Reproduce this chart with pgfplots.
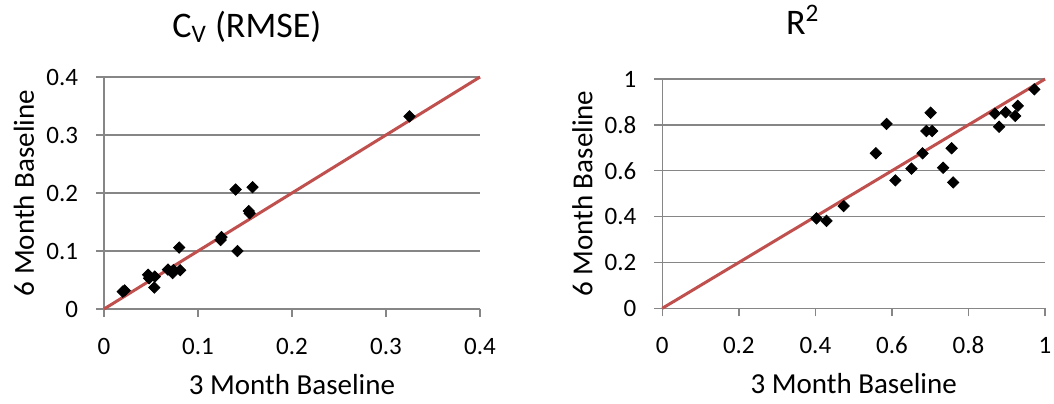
\documentclass[border=0pt]{standalone}
\usepackage{fontspec}
\setmainfont{Carlito}
\usepackage{pgfplots}
\pgfplotsset{compat=1.18}
\usepackage{pgfplotstable}

% Coefficient of variation of the RMSE: 3-month vs 6-month baseline
\pgfplotstableread{
x y
0.020 0.030
0.022 0.032
0.047 0.059
0.048 0.053
0.054 0.056
0.0535 0.037
0.068 0.068
0.074 0.067
0.073 0.062
0.081 0.067
0.080 0.106
0.124 0.119
0.125 0.124
0.142 0.100
0.140 0.206
0.158 0.210
0.154 0.169
0.155 0.165
0.325 0.332
}\cvdata

% Coefficient of determination: 3-month vs 6-month baseline
\pgfplotstableread{
x y
0.403 0.392
0.429 0.381
0.474 0.446
0.558 0.676
0.586 0.804
0.609 0.558
0.651 0.609
0.680 0.676
0.690 0.773
0.705 0.773
0.701 0.853
0.734 0.613
0.756 0.698
0.760 0.549
0.869 0.849
0.880 0.792
0.897 0.855
0.922 0.839
0.929 0.883
0.972 0.955
}\rsqdata

\definecolor{xlgray}{HTML}{868686}
\definecolor{xlred}{HTML}{C0504D}

\pgfplotsset{
  baseline/.style={
    scale only axis,
    anchor=south west,
    axis lines*=left,
    axis line style={xlgray, line width=0.75pt},
    ymajorgrids,
    major grid style={xlgray, line width=0.75pt},
    tick style={xlgray, line width=0.75pt},
    tick align=outside,
    major tick length=4pt,
    /pgf/number format/assume math mode=true,
    tick label style={font=\fontsize{12.5}{15}\selectfont, inner sep=0pt},
    xticklabel style={anchor=base, yshift=-18.5pt},
    yticklabel style={anchor=east, xshift=-8.8pt},
    every axis x label/.style={at={(axis description cs:0.5,0)},
      anchor=base, yshift=-42.5pt, font=\fontsize{14.5}{17}\selectfont},
    every axis y label/.style={at={(axis description cs:0,0.5)},
      xshift=-40pt, rotate=90, anchor=center, font=\fontsize{14.5}{17}\selectfont},
    xlabel={3 Month Baseline},
    ylabel={6 Month Baseline},
    clip=false,
  },
  pts/.style={only marks, mark=square*, mark size=2pt,
    mark options={rotate=45, fill=black, draw=black}},
  oneone/.style={xlred, line width=1.5pt, no marks},
}

\begin{document}
\begin{tikzpicture}
\path[use as bounding box] (0,0) rectangle (527pt,201.5pt);

\begin{axis}[baseline,
  at={(52pt,47pt)}, width=188pt, height=116pt,
  xmin=0, xmax=0.4, ymin=0, ymax=0.4,
  xtick={0,0.1,0.2,0.3,0.4}, ytick={0,0.1,0.2,0.3,0.4},
  xticklabels={0,0.1,0.2,0.3,0.4}, yticklabels={0,0.1,0.2,0.3,0.4},
  title={C\textsubscript{V} (RMSE)},
  every axis title/.style={at={(axis description cs:0.380,1)}, anchor=base,
    yshift=20pt, font=\fontsize{18}{21}\selectfont},
]
\addplot[oneone] coordinates {(0,0) (0.4,0.4)};
\addplot[pts] table[x=x, y=y] {\cvdata};
\end{axis}

\begin{axis}[baseline,
  at={(331.15pt,47.35pt)}, width=191.35pt, height=114.65pt,
  xmin=0, xmax=1, ymin=0, ymax=1,
  xtick={0,0.2,0.4,0.6,0.8,1}, ytick={0,0.2,0.4,0.6,0.8,1},
  xticklabels={0,0.2,0.4,0.6,0.8,1}, yticklabels={0,0.2,0.4,0.6,0.8,1},
  title={R\textsuperscript{2}},
  every axis title/.style={at={(axis description cs:0.367,1)}, anchor=base,
    yshift=22.5pt, font=\fontsize{18}{21}\selectfont},
]
\addplot[oneone] coordinates {(0,0) (1,1)};
\addplot[pts] table[x=x, y=y] {\rsqdata};
\end{axis}
\end{tikzpicture}
\end{document}
